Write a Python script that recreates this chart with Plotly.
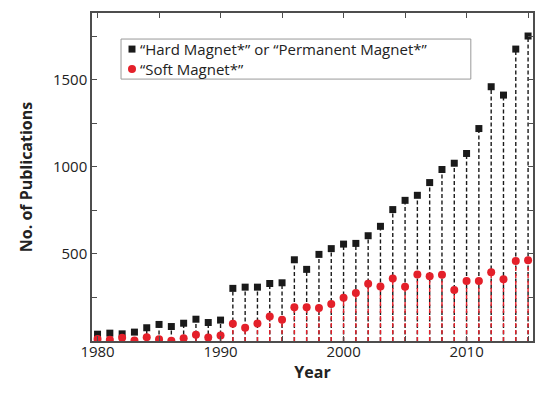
import plotly.graph_objects as go

years = list(range(1980, 2016))
hard = [39, 45, 41, 51, 76, 95, 83, 102, 125, 106, 120, 302, 309, 309, 330, 334, 466, 411,
        497, 530, 556, 560, 604, 658, 754, 807, 836, 909, 984, 1020, 1076, 1219, 1459, 1411, 1675, 1750]
soft = [12, 7, 18, 3, 22, 10, 1, 16, 36, 20, 32, 99, 76, 100, 141, 122, 194, 194,
        189, 212, 248, 275, 329, 313, 359, 311, 382, 371, 380, 292, 344, 344, 395, 355, 459, 464]

name_hard = "\u201cHard Magnet*\u201d or \u201cPermanent Magnet*\u201d"
name_soft = "\u201cSoft Magnet*\u201d"

BLACK = "#1a1a1a"
RED = "#e4202a"
FONT = "Open Sans"


def stems(xs, ys):
    sx, sy = [], []
    for x, y in zip(xs, ys):
        sx += [x, x, None]
        sy += [0, y, None]
    return sx, sy


fig = go.Figure()
hx, hy = stems(years, hard)
rx, ry = stems(years, soft)
fig.add_trace(go.Scatter(x=hx, y=hy, mode="lines", line=dict(color=BLACK, width=1.4, dash="4px,2.5px"),
                         showlegend=False, hoverinfo="skip"))
fig.add_trace(go.Scatter(x=rx, y=ry, mode="lines", line=dict(color=RED, width=1.4, dash="4px,3px"),
                         showlegend=False, hoverinfo="skip"))
fig.add_trace(go.Scatter(x=years, y=hard, mode="markers", name=name_hard, showlegend=False,
                         marker=dict(symbol="square", size=7, color=BLACK)))
fig.add_trace(go.Scatter(x=years, y=soft, mode="markers", name=name_soft, showlegend=False,
                         marker=dict(symbol="circle", size=8, color=RED)))

axis_common = dict(showline=True, linecolor="#4d4d4d", linewidth=1.5, mirror="ticks",
                   ticks="inside", ticklen=5, tickwidth=1, tickcolor="#4d4d4d",
                   showgrid=False, zeroline=False, automargin=False,
                   tickfont=dict(family=FONT, size=15, color="#222222"))

fig.update_xaxes(range=[1979.55, 2015.4], tickvals=[1980, 1990, 2000, 2010],
                 minor=dict(tickvals=[1985, 1995, 2005, 2015], ticks="inside", ticklen=5,
                            tickcolor="#4d4d4d", tickwidth=1),
                 ticklabelstandoff=-4,
                 title=dict(text="<b>Year</b>", font=dict(family=FONT, size=16, color="#222222"),
                            standoff=4),
                 **axis_common)
fig.update_yaxes(range=[0, 1882], tickvals=[500, 1000, 1500],
                 minor=dict(tickvals=[250, 750, 1250, 1750], ticks="inside", ticklen=5,
                            tickcolor="#4d4d4d", tickwidth=1),
                 title=dict(text="<b>No. of Publications</b>",
                            font=dict(family=FONT, size=16, color="#222222"), standoff=16),
                 **axis_common)

# hand-built legend box (paper coordinates)
fig.add_shape(type="rect", xref="paper", yref="paper", x0=0.0658, x1=0.859, y0=0.7985, y1=0.9206,
              line=dict(color="#999999", width=1), fillcolor="white", layer="above")
fig.add_shape(type="rect", xref="paper", yref="paper", x0=0.0907 - 0.0079, x1=0.0907 + 0.0079,
              y0=0.890 - 0.0107, y1=0.890 + 0.0107, line=dict(width=0), fillcolor=BLACK, layer="above")
fig.add_shape(type="circle", xref="paper", yref="paper", x0=0.0907 - 0.0091, x1=0.0907 + 0.0091,
              y0=0.829 - 0.0122, y1=0.829 + 0.0122, line=dict(width=0), fillcolor=RED, layer="above")
for label, yy in [(name_hard, 0.890), (name_soft, 0.829)]:
    fig.add_annotation(text=label, xref="paper", yref="paper", x=0.104, y=yy,
                       xanchor="left", yanchor="middle", showarrow=False,
                       font=dict(family=FONT, size=15, color="#222222"))

fig.update_layout(
    width=534, height=377,
    margin=dict(l=84, r=9, t=5, b=44),
    plot_bgcolor="white", paper_bgcolor="white",
    showlegend=False,
)

fig.write_html("out.html")
